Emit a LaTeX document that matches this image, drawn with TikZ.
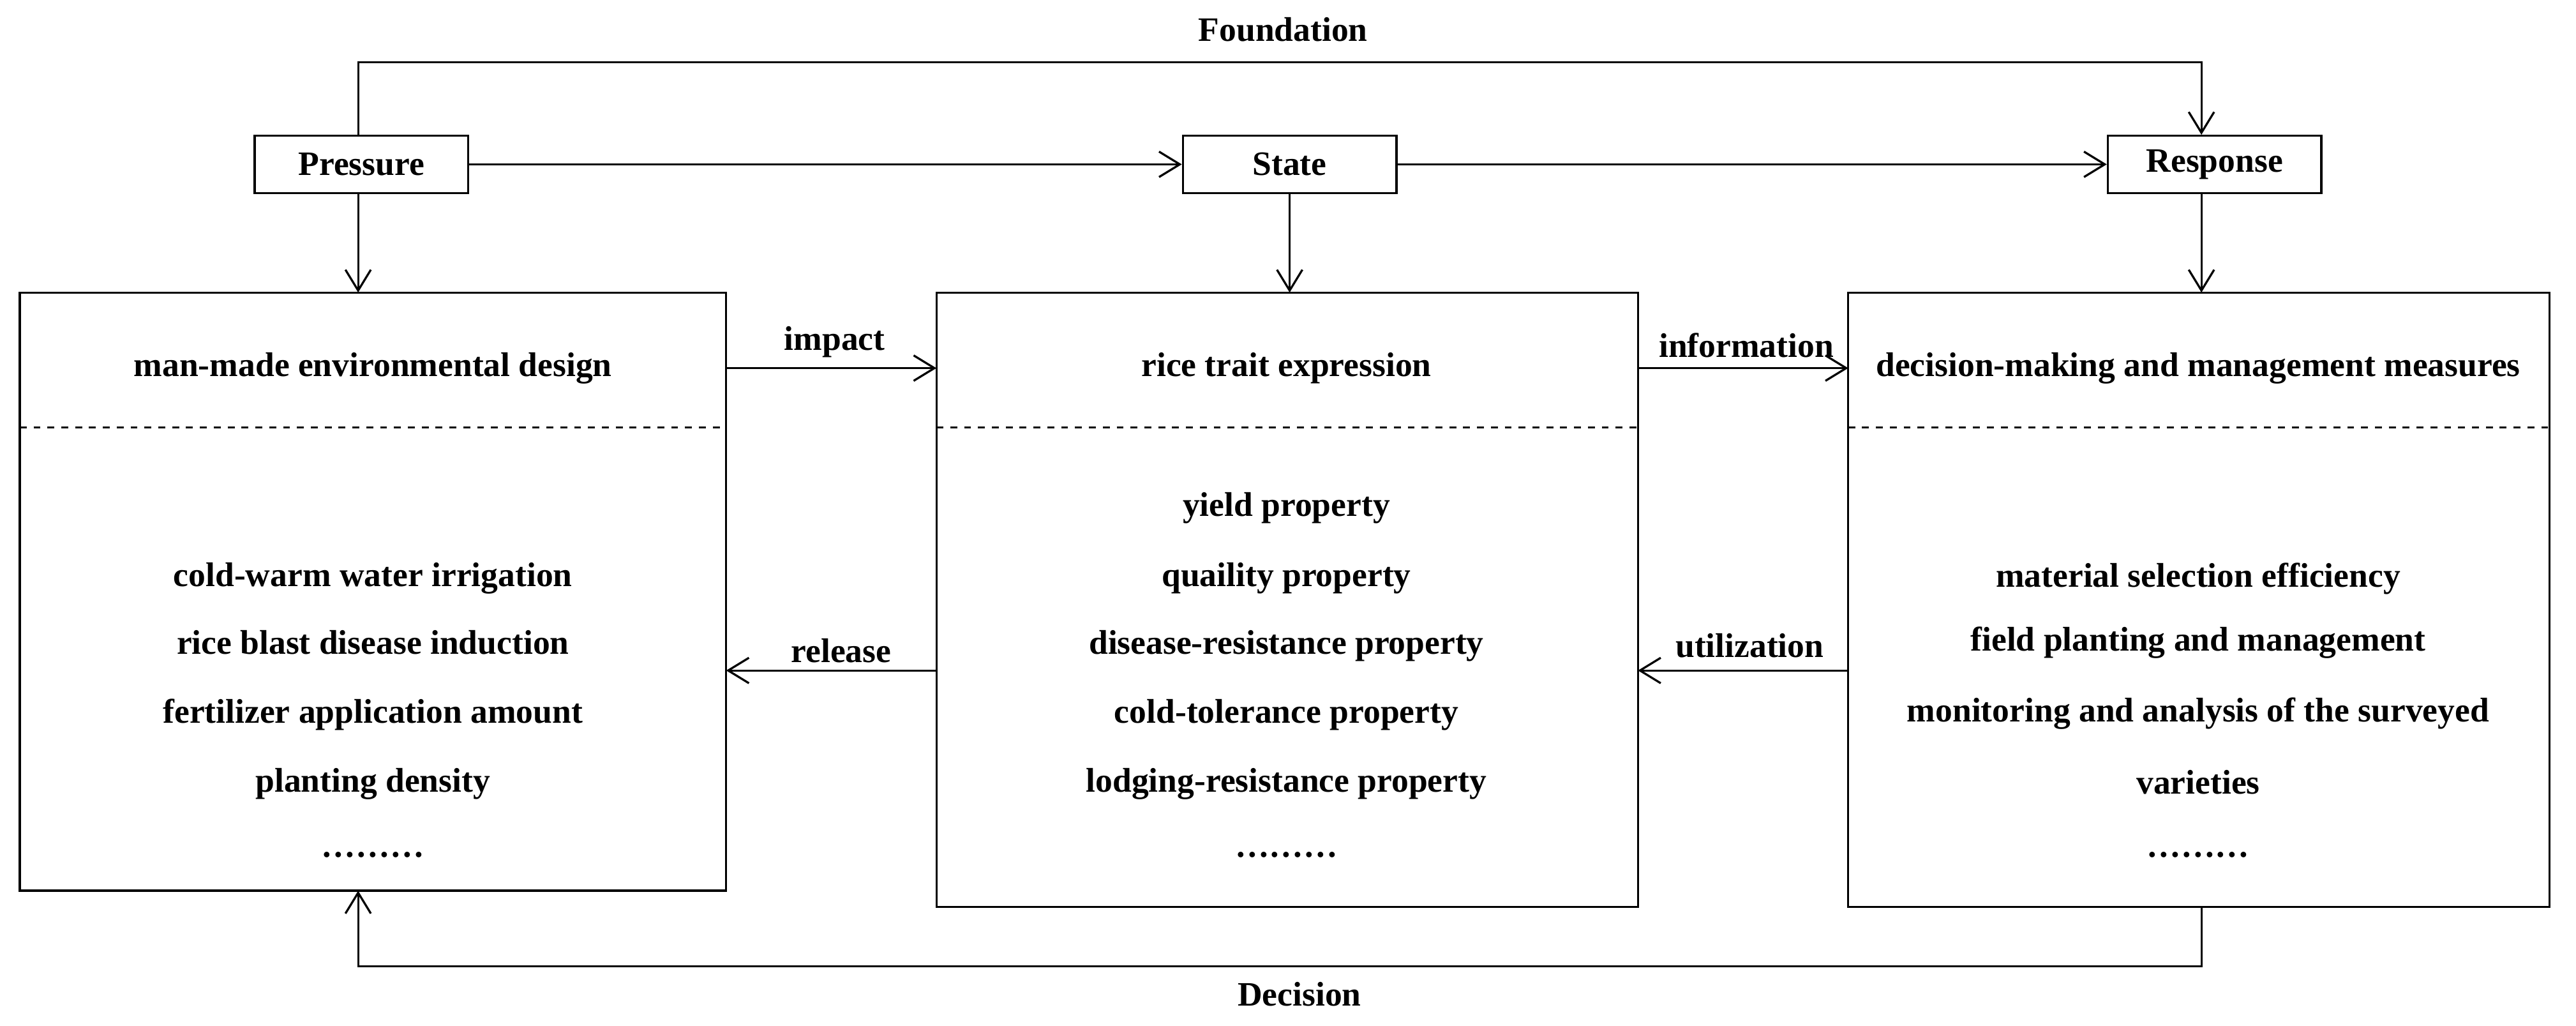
\documentclass[tikz,border=0pt]{standalone}
\usepackage{fontspec}
\setmainfont{Liberation Serif}
\usetikzlibrary{arrows.meta}
\begin{document}
\begin{tikzpicture}[x=0.025cm,y=-0.025cm,
  lbl/.style={font=\fontsize{14.8}{16}\selectfont\bfseries, inner sep=1pt},
  arr/.style={draw, line width=0.9pt, -{Straight Barb[length=9pt,width=11pt]}},
  sbox/.style={draw, line width=0.9pt, minimum width=130*0.025cm, minimum height=35*0.025cm, font=\fontsize{14.8}{16}\selectfont\bfseries}]
\useasboundingbox (0,0) rectangle (1568,624);
\node[sbox] (P) at (220,100) {Pressure};
\node[sbox] (S) at (785,100) {State};
\node[sbox] (R) at (1348,100) {Response};
\draw[line width=0.9pt] (12,178) rectangle (442,542);
\draw[line width=0.9pt] (570,178) rectangle (997,552);
\draw[line width=0.9pt] (1125,178) rectangle (1552,552);
\coordinate (Lt) at (218,178); \coordinate (Mt) at (785,178); \coordinate (Rt) at (1340,178);
\coordinate (Lb) at (218,542); \coordinate (Rb) at (1340,552);
\foreach \a/\b in {12/442,570/997,1125/1552} \draw[dashed, line width=0.7pt] (\a,260) -- (\b,260);
\node[lbl] (t1) at (227,224) {man-made environmental design};
\node[lbl] (t2) at (783,224) {rice trait expression};
\node[lbl] (t3) at (1338,224) {decision-making and management measures};
\foreach \y/\t in {352/{cold-warm water irrigation},391/{rice blast disease induction},435/{fertilizer application amount},477/{planting density},520/{\ldots\ldots\ldots}}
  \node[lbl] at (227,\y) {\t};
\foreach \y/\t in {309/{yield property},352/{quaility property},393/{disease-resistance property},435/{cold-tolerance property},477/{lodging-resistance property},520/{\ldots\ldots\ldots}}
  \node[lbl] at (783,\y) {\t};
\foreach \y/\t in {352/{material selection efficiency},391/{field planting and management},434/{monitoring and analysis of the surveyed},476/{varieties},520/{\ldots\ldots\ldots}}
  \node[lbl] at (1338,\y) {\t};
\draw[arr] (P) -- (S);
\draw[arr] (S) -- (R);
\draw[arr] (218,117) -- (Lt);
\draw[arr] (S) -- (Mt);
\draw[arr] (1340,118) -- (Rt);
\draw[arr] (218,82) -- (218,38) -- (1340,38) -- (1340,82);
\node[lbl] at (781,18) {Foundation};
\draw[arr] (442,224) -- (570,224); \node[lbl] at (508,208) {impact};
\draw[arr] (997,224) -- (1125,224); \node[lbl] at (1063,210) {information};
\draw[arr] (570,408) -- (442,408); \node[lbl] at (512,396) {release};
\draw[arr] (1125,408) -- (997,408); \node[lbl] at (1065,393) {utilization};
\draw[arr] (Rb) -- (1340,588) -- (218,588) -- (Lb);
\node[lbl] at (791,605) {Decision};
\end{tikzpicture}
\end{document}
